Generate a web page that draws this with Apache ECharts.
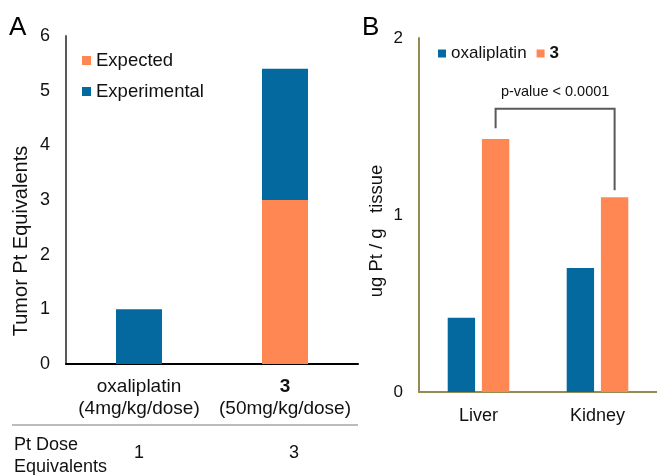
<!DOCTYPE html>
<html>
<head>
<meta charset="utf-8">
<script src="https://cdn.jsdelivr.net/npm/echarts@6/dist/echarts.min.js"></script>
<style>html,body{margin:0;padding:0;background:#fff;}#chart{width:657px;height:475px;}</style>
</head>
<body>
<div id="chart"></div>
<script>
// ---- Panel A data ----
const categoriesA = ['oxaliplatin', '3'];
const dosesA = ['(4mg/kg/dose)', '(50mg/kg/dose)'];
const doseEquivalents = ['1', '3'];
const experimentalA = [1.0, 5.4];
const expectedA = [null, 3.0];
const yTicksA = { min: 0, max: 6, interval: 1 };

// ---- Panel B data ----
const categoriesB = ['Liver', 'Kidney'];
const oxaliplatinB = [0.42, 0.70];
const compound3B = [1.43, 1.10];
const yTicksB = { min: 0, max: 2, interval: 1 };
const bracketLevels = [1.49, 1.60, 1.14]; // left end, top, right end
const pLabel = 'p-value < 0.0001';
const pLabelLevel = 1.70;

const BLUE = '#03699F';
const ORANGE = '#FF8753';
const FONT = 'Liberation Sans, Arial, sans-serif';
const TXT = '#111';

const chart = echarts.init(document.getElementById('chart'), null, { renderer: 'canvas' });

const option = {
  animation: false,
  textStyle: { fontFamily: FONT, color: TXT },
  grid: [
    { left: 66, top: 36, width: 292, height: 328 },
    { left: 419, top: 38, width: 241, height: 354 }
  ],
  legend: [
    {
      data: ['Expected', 'Experimental'],
      orient: 'vertical', left: 77, top: 46, itemGap: 12,
      icon: 'rect', itemWidth: 9, itemHeight: 9,
      textStyle: { fontSize: 18.5, color: TXT, fontFamily: FONT },
      selectedMode: false
    },
    {
      data: ['oxaliplatin', '3'],
      orient: 'horizontal', left: 433, top: 40, itemGap: 10,
      icon: 'rect', itemWidth: 8, itemHeight: 8,
      textStyle: { fontSize: 17, color: TXT, fontFamily: FONT,
        rich: { b: { fontWeight: 'bold', fontSize: 17, fontFamily: FONT, color: TXT } } },
      formatter: n => n === '3' ? '{b|3}' : n,
      selectedMode: false
    }
  ],
  xAxis: [
    {
      gridIndex: 0, type: 'category', data: categoriesA,
      axisLine: { lineStyle: { color: '#000', width: 2 } },
      axisTick: { show: false },
      axisLabel: {
        margin: 12, interval: 0,
        formatter: (v, i) => (i === 1 ? '{b|' + v + '}' : '{n|' + v + '}') + '\n{n|' + dosesA[i] + '}',
        rich: {
          n: { fontSize: 19, lineHeight: 22, color: TXT, fontFamily: FONT },
          b: { fontSize: 19, lineHeight: 22, color: TXT, fontFamily: FONT, fontWeight: 'bold' }
        }
      }
    },
    {
      gridIndex: 0, type: 'category', data: doseEquivalents, position: 'bottom', offset: 72,
      axisLine: { show: false }, axisTick: { show: false },
      axisLabel: {
        margin: 8, fontSize: 18, color: TXT, fontFamily: FONT, interval: 0,
        formatter: (v, i) => i === 1 ? '{s|' + v + '}' : '{n|' + v + '}',
        rich: {
          n: { fontSize: 18, color: TXT, fontFamily: FONT },
          s: { fontSize: 18, color: TXT, fontFamily: FONT, padding: [0, 0, 0, 18] }
        }
      }
    },
    {
      gridIndex: 1, type: 'category', data: categoriesB,
      axisLine: { lineStyle: { color: '#948A54', width: 2 } },
      axisTick: { show: false },
      axisLabel: { margin: 15, fontSize: 18, color: TXT, fontFamily: FONT }
    }
  ],
  yAxis: [
    {
      gridIndex: 0, type: 'value', min: yTicksA.min, max: yTicksA.max, interval: yTicksA.interval,
      axisLine: { show: true, lineStyle: { color: '#595959', width: 2 } },
      axisTick: { show: false }, splitLine: { show: false },
      axisLabel: { margin: 16, fontSize: 18, color: TXT, fontFamily: FONT },
      name: 'Tumor Pt Equivalents', nameLocation: 'middle', nameGap: 35,
      nameTextStyle: { fontSize: 20, color: TXT, fontFamily: FONT, padding: [0, 82, 0, 0] }
    },
    {
      gridIndex: 1, type: 'value', min: yTicksB.min, max: yTicksB.max, interval: yTicksB.interval,
      axisLine: { show: true, lineStyle: { color: '#948A54', width: 2 } },
      axisTick: { show: false }, splitLine: { show: false },
      axisLabel: { margin: 16, fontSize: 17, color: TXT, fontFamily: FONT },
      name: 'ug Pt / g   tissue', nameLocation: 'middle', nameGap: 33,
      nameTextStyle: { fontSize: 18.5, color: TXT, fontFamily: FONT, padding: [0, 32, 0, 0] }
    }
  ],
  series: [
    {
      name: 'Experimental', type: 'bar', xAxisIndex: 0, yAxisIndex: 0,
      data: experimentalA, barWidth: '31.5%', barGap: '-100%',
      itemStyle: { color: BLUE }, silent: true
    },
    {
      name: 'Expected', type: 'bar', xAxisIndex: 0, yAxisIndex: 0,
      data: expectedA, barWidth: '31.5%', barGap: '-100%',
      itemStyle: { color: ORANGE }, silent: true
    },
    {
      name: 'oxaliplatin', type: 'bar', xAxisIndex: 2, yAxisIndex: 1,
      data: oxaliplatinB, barWidth: '23%', barGap: '25%',
      itemStyle: { color: BLUE }, silent: true
    },
    {
      name: '3', type: 'bar', xAxisIndex: 2, yAxisIndex: 1,
      data: compound3B, barWidth: '23%', barGap: '25%',
      itemStyle: { color: ORANGE }, silent: true
    },
    {
      name: 'bracket', type: 'custom', xAxisIndex: 2, yAxisIndex: 1, silent: true, z: 10,
      data: [[0, bracketLevels[1]]],
      renderItem: function (params, api) {
        const band = api.size([1, 0])[0];
        const off = band * 0.23 * 1.25 / 2;
        const pL = api.coord([0, bracketLevels[0]]);
        const pT = api.coord([0, bracketLevels[1]]);
        const pR = api.coord([1, bracketLevels[2]]);
        const pLab = api.coord([0, pLabelLevel]);
        const xL = pL[0] + off, xR = pR[0] + off;
        return {
          type: 'group',
          children: [
            { type: 'polyline',
              shape: { points: [[xL, pL[1]], [xL, pT[1]], [xR, pT[1]], [xR, pR[1]]] },
              style: { stroke: '#595959', lineWidth: 2, fill: null } },
            { type: 'text', x: (xL + xR) / 2, y: pLab[1] + 1,
              style: { text: pLabel, fontSize: 14.5, fill: TXT, fontFamily: FONT, align: 'center', verticalAlign: 'middle' } }
          ]
        };
      }
    }
  ],
  graphic: [
    { type: 'text', left: 9, top: 15, style: { text: 'A', fontSize: 26, fill: '#000', fontFamily: FONT } },
    { type: 'text', left: 362, top: 15, style: { text: 'B', fontSize: 26, fill: '#000', fontFamily: FONT } },
    { type: 'line', shape: { x1: 12, y1: 425, x2: 358, y2: 425 }, style: { stroke: '#A6A6A6', lineWidth: 1.5 } },
    { type: 'text', left: 14, top: 434, style: { text: 'Pt Dose\nEquivalents', fontSize: 18, lineHeight: 22, fill: TXT, fontFamily: FONT } }
  ]
};
chart.setOption(option);
</script>
</body>
</html>
